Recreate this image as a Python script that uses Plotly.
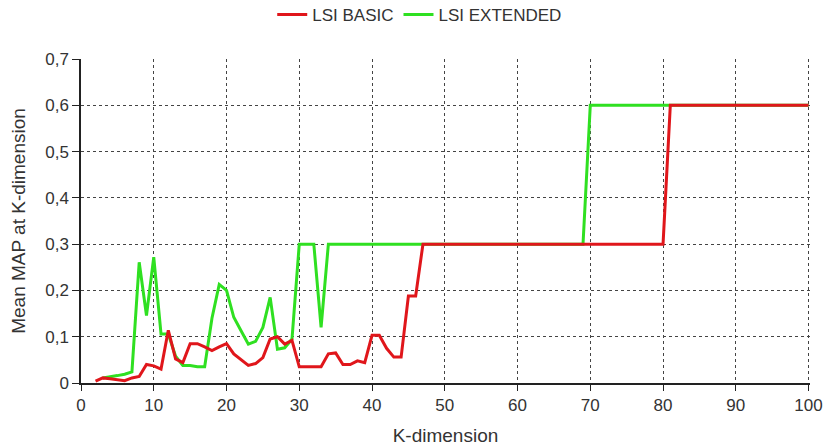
import plotly.graph_objects as go

k_basic = list(range(2, 101))
lsi_basic = [
    0.004, 0.011, 0.009, 0.007, 0.005, 0.011, 0.014, 0.040, 0.037,   # 2-10
    0.030, 0.114, 0.052, 0.044, 0.085, 0.085, 0.078, 0.070, 0.078, 0.085,  # 11-20
    0.063, 0.050, 0.038, 0.042, 0.055, 0.095, 0.100, 0.084, 0.092, 0.035,  # 21-30
    0.035, 0.035, 0.035, 0.063, 0.065, 0.040, 0.040, 0.048, 0.044, 0.103,  # 31-40
    0.103, 0.075, 0.056, 0.056, 0.188, 0.188, 0.300, 0.300, 0.300, 0.300,  # 41-50
] + [0.300] * 30 + [0.600] * 20  # 51-80, 81-100

k_ext = list(range(3, 101))
lsi_extended = [
    0.011, 0.013, 0.016, 0.019, 0.024, 0.261, 0.146, 0.272,  # 3-10
    0.106, 0.106, 0.058, 0.038, 0.038, 0.035, 0.035, 0.140, 0.213, 0.200,  # 11-20
    0.142, 0.113, 0.084, 0.090, 0.120, 0.185, 0.073, 0.076, 0.095, 0.300,  # 21-30
    0.300, 0.300, 0.120, 0.300, 0.300, 0.300, 0.300, 0.300, 0.300, 0.300,  # 31-40
] + [0.300] * 29 + [0.600] * 31  # 41-69, 70-100

x_ticks = list(range(0, 101, 10))
y_ticks = [0, 0.1, 0.2, 0.3, 0.4, 0.5, 0.6, 0.7]

fig = go.Figure()
fig.add_trace(go.Scatter(x=k_ext, y=lsi_extended, mode="lines", name="LSI EXTENDED",
                         line=dict(color="#2fe021", width=3)))
fig.add_trace(go.Scatter(x=k_basic, y=lsi_basic, mode="lines", name="LSI BASIC",
                         line=dict(color="#e0161b", width=3)))

font = "Liberation Sans, Arial, sans-serif"
fig.update_layout(
    width=823, height=448,
    margin=dict(l=81, r=13, t=59, b=65, autoexpand=False),
    paper_bgcolor="white", plot_bgcolor="white",
    separators=", ",
    font=dict(family=font, size=17, color="#333333"),
    showlegend=True,
    legend=dict(orientation="h", xref="container", yref="container",
                x=0.51, xanchor="center", y=1 - 15 / 448, yanchor="middle",
                traceorder="reversed", font=dict(size=17, color="#333333"),
                itemwidth=30, bgcolor="rgba(0,0,0,0)"),
    xaxis=dict(range=[0, 100.2], tickvals=x_ticks, showgrid=True, automargin=False,
               ticklabeloverflow="allow",
               gridcolor="#444444", griddash="dot", gridwidth=1,
               showline=True, linecolor="#222222", linewidth=1.5,
               ticks="outside", ticklen=6, tickcolor="#222222",
               zeroline=False, tickfont=dict(size=17),
               title=dict(text="K-dimension", font=dict(size=19))),
    yaxis=dict(range=[0, 0.7002], tickvals=y_ticks, showgrid=True, automargin=False,
               ticklabeloverflow="allow",
               gridcolor="#444444", griddash="dot", gridwidth=1,
               showline=True, linecolor="#222222", linewidth=1.5,
               ticks="outside", ticklen=7, tickcolor="#222222",
               zeroline=False, tickfont=dict(size=17),
               title=dict(text="Mean MAP at K-dimension", font=dict(size=19))),
)

fig.write_html(
    "out.html",
    config={"displayModeBar": False},
    post_script="document.body.style.margin='0';document.body.style.overflow='hidden';",
)
